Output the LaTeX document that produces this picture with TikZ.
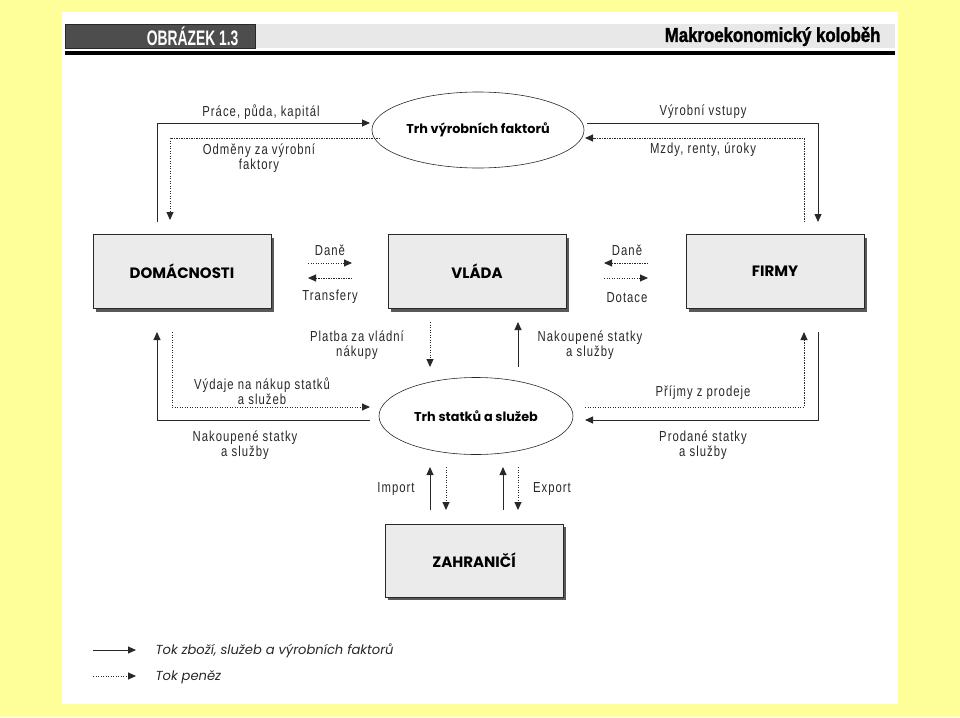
\documentclass[tikz,border=0pt]{standalone}
\usepackage{fontspec}
\setmainfont{Poppins}
\newfontfamily\condf{Liberation Sans}[FakeStretch=0.78,LetterSpace=7]
\newfontfamily\headf{Liberation Sans}[FakeStretch=0.66]
\newfontfamily\headg{Liberation Sans}[FakeStretch=0.84,FakeBold=1.5]
\usetikzlibrary{arrows.meta,shapes.geometric,shadows}
\definecolor{bgyel}{RGB}{255,255,153}
\definecolor{boxgray}{RGB}{235,235,235}
\definecolor{hdark}{RGB}{77,77,77}
\definecolor{hlight}{RGB}{232,232,232}
\definecolor{ink}{RGB}{40,40,40}
\tikzset{
  tip/.style={-{Triangle[length=8pt,width=7pt]}},
  goods/.style={tip,draw=ink,line width=0.9pt},
  money/.style={tip,draw=ink,line width=0.9pt,dash pattern=on 1.2pt off 1.3pt},
  sector/.style={draw=ink,fill=boxgray,line width=0.6pt,minimum width=178pt,minimum height=74pt,
    font=\fontsize{15}{17}\selectfont\bfseries,
    general shadow={fill=black!65,shadow xshift=3pt,shadow yshift=-3pt}},
  market/.style={ellipse,draw=ink,fill=white,line width=0.6pt,font=\fontsize{12.8}{15}\selectfont\bfseries},
  lbl/.style={font=\condf\fontsize{14.5}{15.5}\selectfont,align=center,text=ink,inner sep=0pt},
  legend/.style={font=\fontsize{13.1}{15}\selectfont\itshape,anchor=west,text=ink}
}
\begin{document}
\begin{tikzpicture}[x=1pt,y=-1pt]
\useasboundingbox (0,0) rectangle (960,717);
\fill[bgyel] (0,0) rectangle (960,717);
\fill[white] (62,12) rectangle (898,704);
% header
\fill[hlight] (255,24) rectangle (895,48);
\node[fill=hdark,draw=ink,line width=0.4pt,minimum width=190pt,minimum height=24pt,anchor=north west,
  inner sep=0pt] (hbox) at (65,24) {};
\node[anchor=east,text=white,font=\headf\fontsize{21}{22}\selectfont\bfseries] (htitle) at (242,36.5) {OBRÁZEK 1.3};
\node[anchor=east,text=black,font=\headg\fontsize{20}{21}\selectfont\bfseries] (hname) at (884,36.5) {Makroekonomický koloběh};
\fill[black] (65,51.5) rectangle (895,55.5);
% sectors
\node[sector] (dom) at (182,271.5) {DOMÁCNOSTI};
\node[sector] (vla) at (477,271.5) {VLÁDA};
\node[sector] (fir) at (775,271.5) {FIRMY};
\node[sector,minimum height=73pt] (zah) at (474,560.5) {ZAHRANIČÍ};
% markets
\node[market,minimum width=198pt,minimum height=76pt] (tvf) at (478,130) {Trh výrobních faktorů};
\node[market,minimum width=194pt,minimum height=77pt] (tss) at (476,416) {Trh statků a služeb};
% coordinates
\coordinate (a1) at (157,222); \coordinate (a2) at (370,123);
\coordinate (b1) at (380,138); \coordinate (b2) at (170,220);
\coordinate (c1) at (587,123); \coordinate (c2) at (818,222);
\coordinate (d1) at (804,222); \coordinate (d2) at (585,138);
\coordinate (e1) at (370,420); \coordinate (e2) at (157,332);
\coordinate (f1) at (172,332); \coordinate (f2) at (370,407);
\coordinate (g1) at (818,332); \coordinate (g2) at (585,420);
\coordinate (h1) at (585,407); \coordinate (h2) at (804,332);
% top loop
\draw[goods] (a1) |- (a2);
\draw[money] (b1) -| (b2);
\draw[goods] (c1) -| (c2);
\draw[money] (d1) |- (d2);
% bottom loop
\draw[goods] (e1) -| (e2);
\draw[money] (f1) |- (f2);
\draw[goods] (g1) |- (g2);
\draw[money] (h1) -| (h2);
% government flows
\coordinate (t1) at (308,263); \coordinate (t2) at (352,263);
\coordinate (t3) at (352,278); \coordinate (t4) at (308,278);
\draw[money] (t1) -- (t2);
\draw[money] (t3) -- (t4);
\coordinate (u1) at (648,263); \coordinate (u2) at (604,263);
\coordinate (u3) at (604,278); \coordinate (u4) at (648,278);
\draw[money] (u1) -- (u2);
\draw[money] (u3) -- (u4);
\coordinate (p1) at (430,322); \coordinate (p2) at (430,367);
\draw[money] (p1) -- (p2);
\coordinate (n1) at (518,367); \coordinate (n2) at (518,322);
\draw[goods] (n1) -- (n2);
% foreign
\coordinate (i1) at (430,510); \coordinate (i2) at (430,467);
\coordinate (j1) at (446,467); \coordinate (j2) at (446,510);
\coordinate (k1) at (503,510); \coordinate (k2) at (503,467);
\coordinate (l1) at (518,467); \coordinate (l2) at (518,510);
\draw[goods] (i1) -- (i2);
\draw[money] (j1) -- (j2);
\draw[goods] (k1) -- (k2);
\draw[money] (l1) -- (l2);
% labels
\node[lbl] (L1) at (261,112) {Práce, půda, kapitál};
\node[lbl] (L2) at (259,158) {Odměny za výrobní\\faktory};
\node[lbl] (L3) at (703,112) {Výrobní vstupy};
\node[lbl] (L4) at (703,150) {Mzdy, renty, úroky};
\node[lbl] (L5) at (330,250) {Daně};
\node[lbl] (L6) at (330,297) {Transfery};
\node[lbl] (L7) at (627,250) {Daně};
\node[lbl] (L8) at (627,298) {Dotace};
\node[lbl] (L9) at (357,345) {Platba za vládní\\nákupy};
\node[lbl] (L10) at (590,345) {Nakoupené statky\\a služby};
\node[lbl] (L11) at (262,391) {Výdaje na nákup statků\\a služeb};
\node[lbl] (L12) at (245,445) {Nakoupené statky\\a služby};
\node[lbl] (L13) at (703,393) {Příjmy z prodeje};
\node[lbl] (L14) at (703,445) {Prodané statky\\a služby};
\node[lbl] (L15) at (396,489) {Import};
\node[lbl] (L16) at (552,489) {Export};
% legend
\coordinate (m1) at (93,650); \coordinate (m2) at (136,650);
\coordinate (o1) at (93,676); \coordinate (o2) at (136,676);
\draw[goods] (m1) -- (m2);
\draw[money] (o1) -- (o2);
\node[legend] (lg1) at (152,651) {Tok zboží, služeb a výrobních faktorů};
\node[legend] (lg2) at (152,677) {Tok peněz};
\end{tikzpicture}
\end{document}
